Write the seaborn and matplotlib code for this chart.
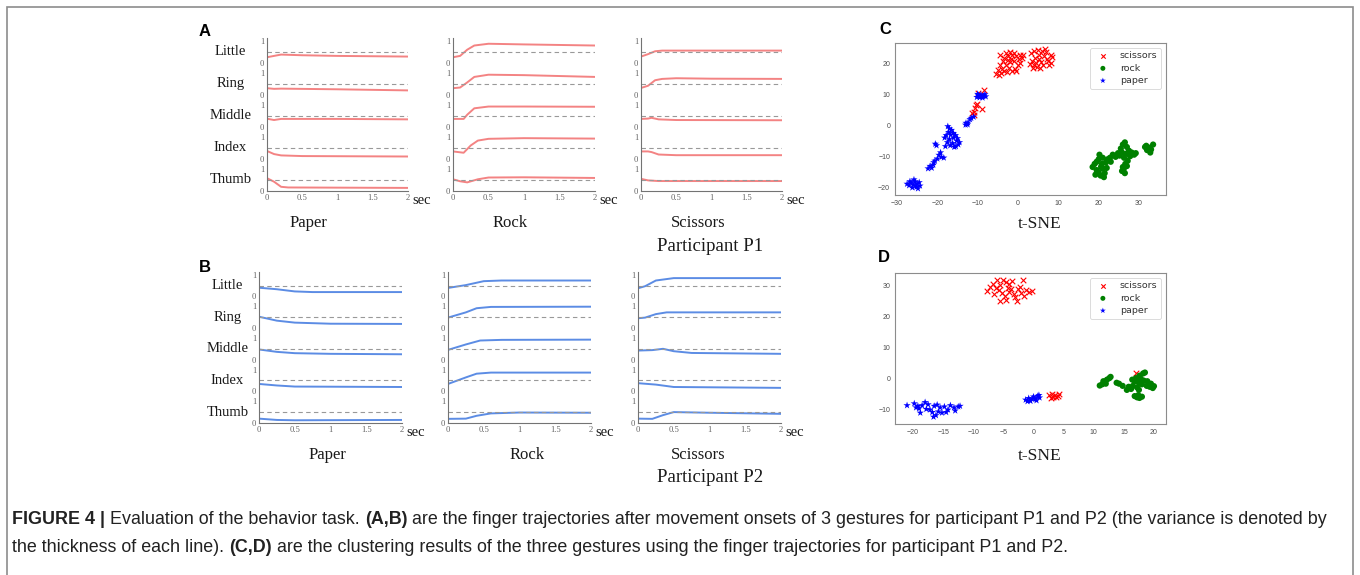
import numpy as np
import seaborn as sns
import matplotlib
matplotlib.use("Agg")
import matplotlib.pyplot as plt
from matplotlib.patches import Rectangle

# ---- finger trajectories (value read per finger, 0..1) ----
fingers = ["Little", "Ring", "Middle", "Index", "Thumb"]
gestures = ["Paper", "Rock", "Scissors"]

# participant P1 : (times, values) per gesture per finger
p1_paper = {
    "Little": ([0, 0.1, 0.2, 0.5, 1, 2], [0.25, 0.31, 0.37, 0.34, 0.31, 0.28]),
    "Ring": ([0, 0.1, 0.2, 1, 2], [0.30, 0.27, 0.28, 0.25, 0.20]),
    "Middle": ([0, 0.1, 0.2, 1, 2], [0.37, 0.31, 0.36, 0.36, 0.34]),
    "Index": ([0, 0.1, 0.2, 0.5, 2], [0.36, 0.22, 0.16, 0.13, 0.11]),
    "Thumb": ([0, 0.1, 0.2, 0.3, 2], [0.58, 0.42, 0.19, 0.16, 0.14]),
}
p1_rock = {
    "Little": ([0, 0.1, 0.2, 0.3, 0.5, 1, 2], [0.25, 0.31, 0.59, 0.78, 0.86, 0.83, 0.78]),
    "Ring": ([0, 0.1, 0.2, 0.3, 0.5, 1, 2], [0.30, 0.33, 0.56, 0.81, 0.91, 0.89, 0.81]),
    "Middle": ([0, 0.15, 0.2, 0.3, 0.5, 1, 2], [0.36, 0.36, 0.55, 0.84, 0.92, 0.92, 0.91]),
    "Index": ([0, 0.15, 0.25, 0.35, 0.5, 1, 2], [0.34, 0.28, 0.61, 0.83, 0.91, 0.94, 0.92]),
    "Thumb": ([0, 0.1, 0.2, 0.35, 0.5, 1, 2], [0.53, 0.44, 0.39, 0.53, 0.61, 0.62, 0.59]),
}
p1_scissors = {
    "Little": ([0, 0.1, 0.2, 0.3, 2], [0.28, 0.39, 0.52, 0.55, 0.55]),
    "Ring": ([0, 0.1, 0.2, 0.3, 0.5, 1, 2], [0.31, 0.41, 0.66, 0.72, 0.75, 0.73, 0.72]),
    "Middle": ([0, 0.1, 0.15, 0.25, 0.5, 2], [0.36, 0.375, 0.41, 0.34, 0.31, 0.30]),
    "Index": ([0, 0.1, 0.15, 0.25, 0.5, 2], [0.34, 0.34, 0.31, 0.20, 0.17, 0.17]),
    "Thumb": ([0, 0.1, 0.25, 2], [0.55, 0.48, 0.45, 0.45]),
}
# participant P2
p2_paper = {
    "Little": ([0, 0.25, 0.5, 0.75, 2], [0.40, 0.33, 0.23, 0.20, 0.20]),
    "Ring": ([0, 0.25, 0.5, 1, 2], [0.52, 0.34, 0.25, 0.20, 0.19]),
    "Middle": ([0, 0.25, 0.5, 1, 2], [0.47, 0.36, 0.30, 0.27, 0.25]),
    "Index": ([0, 0.25, 0.5, 2], [0.34, 0.27, 0.22, 0.20]),
    "Thumb": ([0, 0.25, 0.5, 2], [0.20, 0.14, 0.125, 0.14]),
}
p2_rock = {
    "Little": ([0, 0.25, 0.5, 0.75, 2], [0.39, 0.52, 0.70, 0.73, 0.73]),
    "Ring": ([0, 0.25, 0.4, 0.6, 2], [0.48, 0.72, 0.91, 0.97, 0.98]),
    "Middle": ([0, 0.25, 0.45, 0.75, 2], [0.45, 0.70, 0.88, 0.91, 0.92]),
    "Index": ([0, 0.25, 0.4, 0.6, 2], [0.34, 0.64, 0.81, 0.86, 0.86]),
    "Thumb": ([0, 0.25, 0.4, 0.6, 1, 2], [0.19, 0.20, 0.33, 0.44, 0.48, 0.47]),
}
p2_scissors = {
    "Little": ([0, 0.1, 0.25, 0.5, 2], [0.375, 0.47, 0.73, 0.84, 0.84]),
    "Ring": ([0, 0.1, 0.25, 0.4, 2], [0.45, 0.48, 0.64, 0.72, 0.72]),
    "Middle": ([0, 0.2, 0.35, 0.5, 0.75, 2], [0.42, 0.44, 0.50, 0.39, 0.31, 0.27]),
    "Index": ([0, 0.25, 0.5, 2], [0.375, 0.31, 0.20, 0.16]),
    "Thumb": ([0, 0.2, 0.35, 0.5, 1, 2], [0.20, 0.19, 0.36, 0.50, 0.47, 0.42]),
}
threshold = 0.5
x_ticks = [0, 0.5, 1, 1.5, 2]
x_tick_labels = ["0", "0.5", "1", "1.5", "2"]

# ---- t-SNE embeddings ----
c_scissors_x = [-5.5, -4.8, -4.2, -3.5, -2.8, -1.5, -0.8, -2.2, -4.0, -3.0, -2.0, -1.0, 0.2, -0.5, -1.5, -2.5,
                -3.5, -4.5, -3.0, -2.0, -1.0, 0.5, 1.0, 0.6, -1.8, -3.8, -2.6, 0.0, -0.4, -5.0, -4.5, 1.2,
                3.2, 4.0, 5.0, 6.0, 7.0, 8.2, 8.5, 6.5, 5.2, 4.2, 3.5, 4.0, 4.8, 5.5, 6.2, 5.8, 4.5, 7.5,
                7.8, 8.3, 6.8, 3.8, 5.3, 7.2, 2.9,
                -10.0, -8.5, -10.3, -10.6, -11.0, -11.4, -9.0, -10.2, -10.8, -9.5]
c_scissors_y = [16.8, 16.5, 17.2, 17.8, 17.5, 17.8, 18.2, 18.8, 18.5, 19.5, 20.5, 21.0, 21.5, 22.5, 23.0, 22.5,
                22.0, 22.8, 23.5, 24.0, 23.5, 23.0, 21.8, 20.2, 21.5, 20.8, 21.2, 19.5, 17.6, 18.0, 19.8, 22.8,
                23.5, 24.2, 24.5, 24.3, 23.8, 23.0, 22.2, 22.5, 22.8, 22.0, 21.0, 19.5, 19.0, 18.8, 19.5, 20.5,
                20.3, 20.8, 19.8, 20.3, 24.8, 18.6, 21.6, 21.5, 19.9,
                10.5, 11.5, 6.6, 5.8, 4.5, 4.0, 5.3, 7.1, 3.5, 9.8]
c_rock_x = [18.5, 19.0, 19.5, 20.0, 20.2, 20.8, 21.0, 21.5, 20.5, 19.2, 21.8, 22.2, 21.0, 20.0, 22.0, 19.5,
            20.6, 21.3, 22.8, 23.5, 24.2, 23.0, 24.8,
            25.5, 26.0, 26.5, 27.0, 27.5, 28.2, 28.8, 27.8, 26.8, 25.8, 26.3, 27.2, 29.2, 25.2, 26.6, 26.0,
            25.8, 26.5, 27.0, 26.2,
            31.5, 32.0, 32.5, 33.0, 33.5, 32.8, 31.8]
c_rock_y = [-13.5, -12.5, -14.5, -11.0, -9.5, -12.5, -14.0, -15.5, -16.3, -16.0, -12.0, -11.0, -10.5, -15.2,
            -13.8, -11.8, -13.4, -16.8, -10.5, -9.5, -10.2, -11.8, -9.0,
            -7.5, -6.2, -5.5, -7.0, -8.2, -8.8, -9.5, -10.0, -9.2, -8.8, -10.5, -11.5, -9.0, -9.8, -12.5,
            -13.5, -14.8, -15.5, -13.2, -14.2,
            -7.0, -8.0, -7.2, -7.8, -6.2, -8.8, -6.6]
c_paper_x = [-10.2, -9.8, -9.2, -8.6, -8.2, -9.5, -8.8, -10.0, -8.0,
             -11.0, -11.6, -11.9, -12.9, -12.5, -13.0, -12.4,
             -17.0, -16.5, -17.2, -16.0, -17.8, -18.2, -17.0, -16.0, -15.5, -15.2, -16.2, -15.8, -14.8,
             -14.5, -17.5, -16.8, -18.0, -15.0, -16.7, -15.4, -17.4,
             -20.5, -20.2, -19.2, -19.6, -19.0, -20.0, -20.6, -21.0, -21.8, -22.3, -21.4, -18.4, -20.9,
             -27.5, -27.0, -26.5, -26.0, -25.5, -25.0, -24.5, -25.2, -26.2, -24.3, -25.8, -26.8, -24.8, -25.5]
c_paper_y = [9.2, 9.8, 10.0, 9.6, 10.1, 9.1, 9.0, 10.2, 9.4,
             2.8, 2.4, 2.0, 0.8, 0.3, 0.2, 0.9,
             -1.0, -1.5, -2.2, -2.5, -3.2, -4.0, -4.5, -4.0, -3.2, -5.0, -5.8, -7.0, -6.2,
             -5.5, -5.5, -6.5, -6.8, -4.2, -3.0, -6.8, -0.3,
             -6.0, -6.5, -8.8, -9.6, -10.3, -10.8, -11.5, -12.8, -13.2, -14.0, -13.8, -10.5, -12.0,
             -19.0, -19.5, -18.6, -19.2, -18.2, -19.0, -18.5, -20.0, -20.2, -19.6, -17.6, -18.2, -20.5, -19.6]

d_scissors_x = [-7.8, -7.2, -6.8, -6.0, -5.5, -5.0, -4.5, -4.0, -3.5, -5.8, -5.2, -4.8, -4.5, -5.5, -3.8,
                -3.2, -2.5, -2.0, -1.5, -0.8, -0.2, -1.2, -2.8, -3.0, -6.2, -4.2, -2.2, -6.5, -4.0, -1.8,
                2.6, 3.0, 3.3, 3.6, 4.0, 4.2, 2.9, 3.8, 17.0]
d_scissors_y = [28.0, 29.5, 30.5, 31.5, 30.0, 31.8, 31.0, 30.5, 31.2, 28.5, 27.5, 26.5, 25.2, 24.8, 28.8,
                27.2, 28.8, 27.5, 26.5, 27.8, 28.0, 28.5, 25.0, 26.2, 29.2, 29.2, 29.5, 27.0, 27.8, 31.5,
                -5.6, -5.0, -6.2, -5.4, -5.8, -5.0, -6.3, -6.0, 1.8]
d_rock_x = [11.0, 11.4, 11.8, 12.2, 12.6, 12.0, 11.6, 12.8,
            14.2, 14.8, 15.5, 15.8, 13.8,
            16.2, 16.5, 16.8, 17.0, 17.2, 17.5, 17.8, 18.0, 18.2, 18.5, 18.3, 18.8, 19.3, 19.8, 20.0,
            17.5, 16.4, 17.6, 18.9, 19.5,
            16.8, 17.2, 17.6, 18.0, 17.4]
d_rock_y = [-2.4, -2.0, -1.2, -0.5, 0.0, -1.8, -1.0, 0.4,
            -1.8, -2.5, -3.8, -2.8, -1.5,
            -3.5, -2.5, -1.0, 0.0, -3.0, -1.5, -0.2, -2.0, 1.5, 1.8, -0.8, -2.5, -2.8, -3.2, -2.6,
            -3.8, -0.5, 0.8, -1.0, -1.8,
            -5.8, -6.2, -6.4, -6.0, -5.5]
d_paper_x = [-1.3, -0.8, -0.5, 0.0, 0.3, 0.7, 1.0, -0.2, 0.5, -1.0, 0.9,
             -21.0, -19.8, -19.2, -19.0, -18.5, -18.0, -17.5, -17.2, -16.8, -16.5, -16.0, -15.5, -15.8,
             -15.2, -16.2, -14.8, -14.2, -13.8, -13.2, -12.5, -13.0, -18.8, -17.8, -14.5, -19.5, -16.6, -12.2]
d_paper_y = [-7.0, -6.5, -7.4, -6.0, -6.8, -5.8, -6.3, -6.6, -7.2, -7.5, -5.5,
             -8.8, -8.2, -9.0, -9.8, -8.8, -7.8, -8.5, -10.2, -11.0, -9.0, -8.6, -9.5, -10.8,
             -11.2, -12.0, -9.2, -10.2, -8.8, -9.5, -9.2, -10.5, -11.2, -10.0, -11.0, -9.5, -12.5, -9.0]

sns.set_style("white")
serif = ["Liberation Serif", "DejaVu Serif"]
sans = ["Liberation Sans", "DejaVu Sans"]
plt.rcParams["font.family"] = sans

W, H = 1360, 575
fig = plt.figure(figsize=(W / 100, H / 100), dpi=100)

row_gap = 1.45


def px_axes(x0, x1, y_top, y_bot):
    return fig.add_axes([x0 / W, 1 - y_bot / H, (x1 - x0) / W, (y_bot - y_top) / H])


def trajectory_panel(ax, data, color, show_names, name_x):
    yt, yl = [], []
    for i, f in enumerate(fingers):
        off = (len(fingers) - 1 - i) * row_gap
        t, v = data[f]
        sns.lineplot(x=t, y=np.array(v) + off, ax=ax, color=color, lw=1.4, alpha=0.85)
        ax.axhline(off + threshold, ls=(0, (4, 3)), color="0.6", lw=0.8)
        yt += [off, off + 1]
        yl += ["0", "1"]
        if show_names:
            ax.text(name_x, off + 0.5, f, transform=ax.get_yaxis_transform(), ha="center",
                    va="center", family=serif, fontsize=10.5, color="0.1")
    ax.set_xlim(0, 2)
    ax.set_ylim(0, 4 * row_gap + 1.12)
    ax.set_yticks(yt)
    ax.set_yticklabels(yl)
    ax.set_xticks(x_ticks)
    ax.set_xticklabels(x_tick_labels)
    for s in ["top", "right"]:
        ax.spines[s].set_visible(False)
    for s in ["left", "bottom"]:
        ax.spines[s].set_color("0.45")
        ax.spines[s].set_linewidth(0.8)
    ax.tick_params(direction="in", length=2, width=0.6, colors="0.4", labelsize=6.2, pad=2)
    for lab in ax.get_xticklabels() + ax.get_yticklabels():
        lab.set_family(serif)
    ax.text(1.03, -0.06, "sec", transform=ax.transAxes, ha="left", va="center",
            family=serif, fontsize=10.5, color="0.1")
    ax.set_xlabel("")
    ax.set_ylabel("")


red_line = "#f26d6d"
blue_line = "#3f78e0"
a_cols = [(267, 408), (453, 595), (641, 782)]
b_cols = [(259, 402), (448, 591), (638, 781)]
p1 = [p1_paper, p1_rock, p1_scissors]
p2 = [p2_paper, p2_rock, p2_scissors]
for k in range(3):
    ax = px_axes(a_cols[k][0], a_cols[k][1], 38, 191)
    trajectory_panel(ax, p1[k], red_line, k == 0, -0.26)
    ax = px_axes(b_cols[k][0], b_cols[k][1], 272, 423)
    trajectory_panel(ax, p2[k], blue_line, k == 0, -0.22)

# gesture / participant labels
for k, g in enumerate(gestures):
    xa = [308, 510, 698][k]
    xb = [327, 527, 698][k]
    fig.text(xa / W, 1 - 223 / H, g, ha="center", va="center", family=serif, fontsize=12, color="0.1")
    fig.text(xb / W, 1 - 455 / H, g, ha="center", va="center", family=serif, fontsize=12, color="0.1")
fig.text(710 / W, 1 - 246 / H, "Participant P1", ha="center", va="center", family=serif, fontsize=13.5, color="0.1")
fig.text(710 / W, 1 - 478 / H, "Participant P2", ha="center", va="center", family=serif, fontsize=13.5, color="0.1")


def tsne_panel(ax, sc, ro, pa, xlim, ylim, xt, yt):
    sns.scatterplot(x=sc[0], y=sc[1], ax=ax, marker="x", color="red", s=16, linewidth=0.8, label="scissors")
    sns.scatterplot(x=ro[0], y=ro[1], ax=ax, marker="o", color="green", s=20, edgecolor="none", label="rock")
    sns.scatterplot(x=pa[0], y=pa[1], ax=ax, marker="*", color="blue", s=30, edgecolor="none", label="paper")
    ax.set_xlim(*xlim)
    ax.set_ylim(*ylim)
    ax.set_xticks(xt)
    ax.set_yticks(yt)
    for s in ax.spines.values():
        s.set_color("0.55")
        s.set_linewidth(0.8)
    ax.tick_params(direction="out", length=2, width=0.6, colors="0.3", labelsize=5, pad=1.5)
    leg = ax.legend(loc="upper right", fontsize=6.8, frameon=True, markerscale=0.8,
                    handletextpad=0.8, borderpad=0.4, labelspacing=0.35)
    leg.get_frame().set_edgecolor("0.8")
    leg.get_frame().set_linewidth(0.6)
    for t in leg.get_texts():
        t.set_family("DejaVu Sans")
        t.set_color("0.2")


ax_c = px_axes(895, 1166, 43, 195)
tsne_panel(ax_c, (c_scissors_x, c_scissors_y), (c_rock_x, c_rock_y), (c_paper_x, c_paper_y),
           (-30.5, 36.7), (-22.6, 26.8), [-30, -20, -10, 0, 10, 20, 30], [-20, -10, 0, 10, 20])
ax_d = px_axes(895, 1166, 273, 424)
tsne_panel(ax_d, (d_scissors_x, d_scissors_y), (d_rock_x, d_rock_y), (d_paper_x, d_paper_y),
           (-23.0, 22.0), (-14.8, 33.9), [-20, -15, -10, -5, 0, 5, 10, 15, 20], [-10, 0, 10, 20, 30])
fig.text(1040 / W, 1 - 224 / H, "t-SNE", ha="center", va="center", family=serif, fontsize=12.5, color="0.1")
fig.text(1040 / W, 1 - 456 / H, "t-SNE", ha="center", va="center", family=serif, fontsize=12.5, color="0.1")

# panel letters
for lab, (x, y) in {"A": (205, 32), "B": (205, 268), "C": (885, 30), "D": (884, 257)}.items():
    fig.text(x / W, 1 - y / H, lab, ha="center", va="center", fontsize=12, fontweight="bold",
             family=sans, color="black")

# outer frame
fig.patches.append(Rectangle((7 / W, -0.05), (1353 - 7) / W, 1.05 - 7 / H, transform=fig.transFigure,
                             fill=False, edgecolor="0.55", lw=1.2))

# caption with bold pieces
renderer = fig.canvas.get_renderer()
cap_size = 12.9
space = cap_size * 0.28 / 72 * 100 / W


def caption_line(y_px, parts):
    x = 12 / W
    for txt, bold in parts:
        t = fig.text(x, 1 - y_px / H, txt, ha="left", va="center", fontsize=cap_size,
                     fontweight="bold" if bold else "normal", family=sans, color="#222222")
        bb = t.get_window_extent(renderer)
        x = bb.x1 / W + space


caption_line(519, [("FIGURE 4 |", True), ("Evaluation of the behavior task.", False), ("(A,B)", True),
                   ("are the finger trajectories after movement onsets of 3 gestures for participant P1 and P2 "
                    "(the variance is denoted by", False)])
caption_line(547, [("the thickness of each line).", False), ("(C,D)", True),
                   ("are the clustering results of the three gestures using the finger trajectories for "
                    "participant P1 and P2.", False)])

fig.savefig("out.png", dpi=100)
